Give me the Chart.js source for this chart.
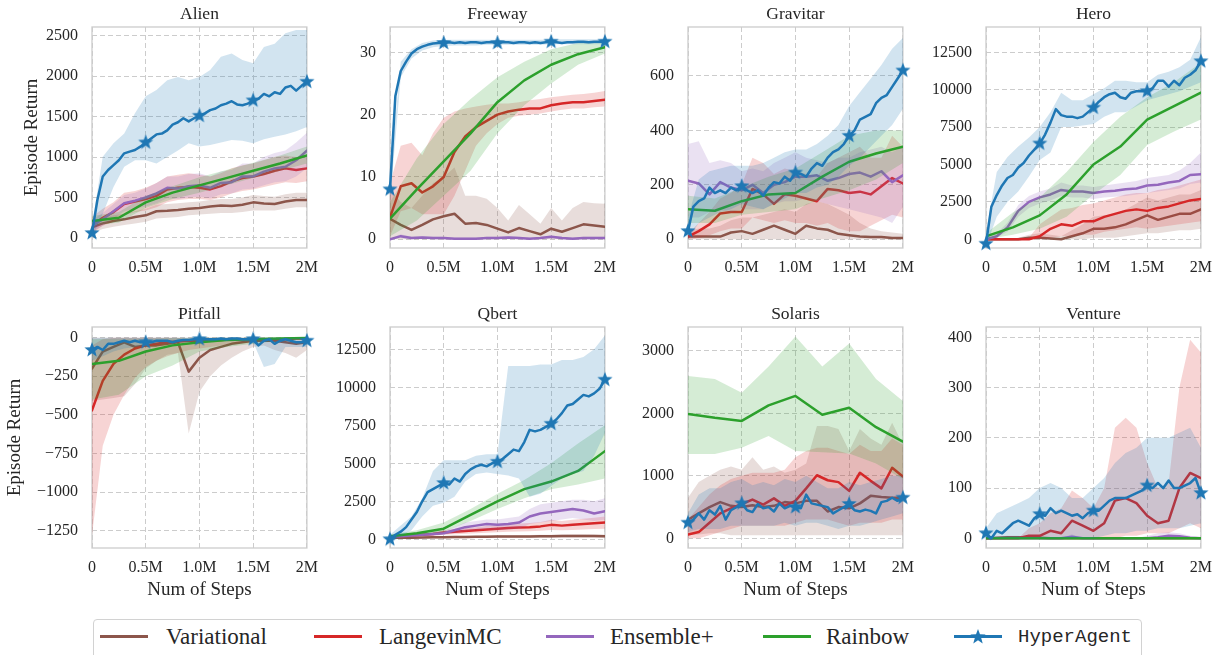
<!DOCTYPE html>
<html><head><meta charset="utf-8">
<script src="https://cdn.jsdelivr.net/npm/chart.js@4.4.0/dist/chart.umd.min.js"></script>
<style>
html,body{margin:0;padding:0;background:#fff;}
body{width:1225px;height:655px;overflow:hidden;position:relative;font-family:"Liberation Serif",serif;color:#262626}
.cw{position:absolute}
#legend{position:absolute;left:93px;top:619px;width:1049px;height:46px;border:1px solid #d2d2d2;border-radius:4px;box-sizing:border-box}
.lline{position:absolute;height:3px;width:48px;top:635px}
.ltext{position:absolute;top:622px;font-size:23px;line-height:30px;white-space:nowrap}
</style></head><body>
<div id="legend"></div>
<script>
// ---------- shared axes / categories ----------
const X10 = [0,0.1,0.2,0.3,0.4,0.5,0.6,0.7,0.8,0.9,1.0,1.1,1.2,1.3,1.4,1.5,1.6,1.7,1.8,1.9,2.0];
const X25 = [0,0.25,0.5,0.75,1.0,1.25,1.5,1.75,2.0];
const X05 = [0,0.05,0.1,0.15,0.2,0.25,0.3,0.35,0.4,0.45,0.5,0.55,0.6,0.65,0.7,0.75,0.8,0.85,0.9,0.95,1.0,1.05,1.1,1.15,1.2,1.25,1.3,1.35,1.4,1.45,1.5,1.55,1.6,1.65,1.7,1.75,1.8,1.85,1.9,1.95,2.0];
const xTickValues = [0,0.5,1,1.5,2];
const xTickLabels = ['0','0.5M','1.0M','1.5M','2M'];
const methods = ['Variational','LangevinMC','Ensemble+','Rainbow','HyperAgent'];
const games = ['Alien','Freeway','Gravitar','Hero','Pitfall','Qbert','Solaris','Venture'];

// ---------- y tick labels ----------
const alien_yTicks = [0,500,1000,1500,2000,2500];
const freeway_yTicks = [0,10,20,30];
const gravitar_yTicks = [0,200,400,600];
const hero_yTicks = [0,2500,5000,7500,10000,12500];
const pitfall_yTicks = [-1250,-1000,-750,-500,-250,0];
const qbert_yTicks = [0,2500,5000,7500,10000,12500];
const solaris_yTicks = [0,1000,2000,3000];
const venture_yTicks = [0,100,200,300,400];

// ---------- Alien ----------
const alien_var = [130,180,210,230,260,280,330,335,345,360,370,390,400,395,410,440,425,420,450,470,470];
const alien_var_lo = [60,110,140,160,180,200,240,250,260,280,290,300,310,310,320,340,340,340,360,380,380];
const alien_var_hi = [200,250,280,300,330,360,410,420,430,440,450,470,480,480,500,530,520,510,540,560,560];
const alien_lang = [150,250,320,420,450,480,520,600,620,630,620,600,640,700,740,760,790,830,860,840,860];
const alien_lang_lo = [60,150,200,280,320,340,380,440,470,480,480,470,500,550,580,600,630,660,690,680,700];
const alien_lang_hi = [260,360,440,560,580,620,680,760,780,800,780,760,800,860,900,920,960,1000,1020,1000,1020];
const alien_ens = [150,230,330,430,460,500,550,620,610,640,650,620,680,690,760,760,820,860,880,960,1080];
const alien_ens_lo = [80,150,240,330,360,390,430,490,480,500,510,490,540,550,600,610,650,690,700,760,860];
const alien_ens_hi = [220,310,420,530,560,610,680,760,760,790,800,760,820,840,920,920,1000,1050,1080,1180,1300];
const alien_rain = [210,250,440,560,650,740,830,920,1020];
const alien_rain_lo = [150,190,370,480,560,650,740,830,920];
const alien_rain_hi = [270,320,520,640,750,840,930,1020,1130];
const alien_hyp = [60,470,760,840,900,960,1046,1067,1087,1128,1180,1230,1280,1290,1330,1400,1430,1480,1440,1480,1510,1540,1580,1600,1640,1660,1690,1650,1640,1660,1700,1720,1780,1750,1800,1780,1860,1880,1820,1880,1930];
const alien_hyp_lo = [0,300,630,880,960,960,920,1000,1080,1170,1130,1150,1180,1210,1200,1170,1220,1250,1280,1320,1370];
const alien_hyp_hi = [150,1005,1170,1290,1540,1750,1830,1950,1990,1950,1990,2075,2240,2280,2200,2160,2360,2400,2530,2570,2570];

// ---------- Freeway ----------
const freeway_var = [3.3,2.3,1.5,2.3,3.2,3.7,4.1,2.5,2.6,2.3,1.7,1.1,1.8,1.3,0.8,1.7,1.2,1.8,2.4,2.2,2.0];
const freeway_var_lo = [0,0,0,0,0,0,0,0,0,0,0,0,0,0,0,0,0,0,0,0,0];
const freeway_var_hi = [8,6,5,7,9,10,11.5,7,7,6.5,5,3,5.5,4,2.5,5,3,5,6,5.8,5.7];
const freeway_lang = [3.5,8.5,9,7.5,8.5,10,14,16.5,18,19,20,20.5,20.8,21,21,21.5,21.8,22,22,22.2,22.4];
const freeway_lang_lo = [0.5,4.5,5,4,4,4,7,11,15,17,18.5,19.5,19.8,20,20.2,20.5,20.8,21,21,21.2,21.3];
const freeway_lang_hi = [9,15,15.5,13.5,17,19.5,20.5,21,21.3,21.6,21.8,21.8,22,22.3,22.5,22.8,23,23.2,23.3,23.5,23.8];
const freeway_ens = [0,0.5,0.2,0.3,0.2,0.2,0.1,0.1,0.1,0.2,0.2,0.3,0.2,0.1,0.2,0.4,0.2,0.1,0.2,0.2,0.2];
const freeway_ens_lo = [0,0.2,0,0.1,0,0,0,0,0,0,0,0.1,0,0,0,0.2,0,0,0,0,0];
const freeway_ens_hi = [0.1,0.8,0.4,0.5,0.4,0.4,0.3,0.3,0.3,0.4,0.4,0.5,0.4,0.3,0.4,0.6,0.4,0.3,0.4,0.4,0.4];
const freeway_rain = [3.3,8,12.5,17,22,25.5,28,29.7,30.8];
const freeway_rain_lo = [0.5,3,7,11,17,21.5,25,28,29.8];
const freeway_rain_hi = [6,13,18.5,22.5,26,28.5,30.5,31.5,31.8];
const freeway_hyp = [8,23,27,28.5,29.8,30.5,30.9,31.2,31.4,31.5,31.5,31.6,31.5,31.6,31.5,31.6,31.6,31.5,31.6,31.6,31.5,31.6,31.6,31.5,31.6,31.6,31.5,31.6,31.5,31.6,31.7,31.6,31.5,31.6,31.6,31.7,31.7,31.6,31.7,31.7,31.7];
const freeway_hyp_lo = [6,26,29,30.3,30.8,31,31.1,31.1,31.1,31.2,31.2,31.2,31.2,31.2,31.2,31.3,31.3,31.3,31.3,31.3,31.3];
const freeway_hyp_hi = [10,28.5,30.5,31.5,31.9,32,32,32,32,32,32,32,32,32,32,32.1,32.1,32.1,32.1,32.1,32.1];

// ---------- Gravitar ----------
const gravitar_var = [10,10,10,10,25,30,20,35,50,35,20,50,40,35,20,15,10,8,8,5,5];
const gravitar_var_lo = [0,0,0,0,0,0,0,0,0,0,0,0,0,0,0,0,0,0,0,0,0];
const gravitar_var_hi = [30,40,40,50,70,80,80,90,100,110,100,130,140,130,110,90,60,40,30,25,20];
const gravitar_lang = [10,30,55,95,100,100,185,165,130,165,160,150,140,185,180,170,175,165,195,225,205];
const gravitar_lang_lo = [0,5,15,30,40,40,80,70,60,70,60,60,50,60,40,30,30,50,70,90,80];
const gravitar_lang_hi = [20,60,100,150,170,200,300,280,240,260,250,240,230,280,300,320,340,300,300,380,340];
const gravitar_ens = [215,205,165,210,190,180,200,170,200,210,230,230,235,215,225,240,245,230,250,210,235];
const gravitar_ens_lo = [80,80,100,110,100,110,110,110,130,140,140,150,140,130,120,110,100,90,80,60,120];
const gravitar_ens_hi = [350,360,280,290,280,250,260,250,280,300,320,300,290,280,300,300,320,330,340,320,340];
const gravitar_rain = [110,105,140,165,170,230,285,315,340];
const gravitar_rain_lo = [60,60,90,100,110,150,180,220,280];
const gravitar_rain_hi = [160,150,190,230,260,320,380,400,400];
const gravitar_hyp = [30,120,140,150,190,170,180,170,190,180,195,180,170,180,160,190,210,205,230,215,245,240,230,260,280,270,300,320,330,350,380,400,440,450,460,500,520,530,560,590,620];
const gravitar_hyp_lo = [0,60,80,100,110,130,120,110,130,150,170,170,190,200,230,270,300,340,380,420,480];
const gravitar_hyp_hi = [80,220,250,260,270,270,270,280,300,320,330,330,350,380,420,490,540,590,640,700,740];

// ---------- Hero ----------
const hero_var = [0,0,0,0,100,100,50,0,200,400,700,700,800,1000,1300,1600,1300,1500,1700,1700,2000];
const hero_var_lo = [0,0,0,0,0,0,0,0,0,0,100,100,100,200,300,400,400,500,600,600,700];
const hero_var_hi = [0,0,0,100,300,400,300,200,600,1000,1500,1600,1700,2000,2400,2800,2600,2800,3000,3000,3300];
const hero_lang = [0,0,0,0,0,200,700,1000,900,1200,1200,1500,1700,1900,2000,1900,2100,2200,2400,2600,2700];
const hero_lang_lo = [0,0,0,0,0,0,100,200,200,300,300,500,600,700,800,700,800,900,1000,1100,1200];
const hero_lang_hi = [0,0,0,0,100,1000,1500,2000,2100,2300,2400,2600,2800,3000,3100,3100,3300,3400,3600,3800,4000];
const hero_ens = [0,200,800,1900,2500,2800,3000,3300,3200,3200,3100,3200,3250,3350,3400,3600,3650,3800,3900,4300,4350];
const hero_ens_lo = [0,100,500,1500,2100,2400,2600,2900,2800,2800,2700,2800,2850,2900,3000,3100,3200,3300,3400,3700,3800];
const hero_ens_hi = [100,400,1100,2300,2900,3200,3400,3800,3600,3600,3500,3600,3700,3800,3900,4100,4200,4300,4600,5100,5800];
const hero_rain = [200,800,1600,3000,5000,6200,8000,8900,9800];
const hero_rain_lo = [0,300,700,1500,3000,4300,6300,7200,8000];
const hero_rain_hi = [400,1800,2800,4500,6500,8200,9500,10500,11800];
const hero_hyp = [-300,2180,2960,3600,4100,4300,4800,5100,5600,6000,6400,7000,7800,8700,8300,8200,8200,8100,8200,8500,8800,9200,9500,9700,9800,9500,9400,9800,9900,9900,9900,10100,10600,10600,10200,10600,10300,10800,11000,11300,11900];
const hero_hyp_lo = [-500,1500,2500,3200,4200,5300,5800,7500,7500,7600,7700,8200,8500,8500,8900,9300,9500,9700,9900,10200,10500];
const hero_hyp_hi = [500,4500,5500,6200,6800,7500,8500,9800,9300,9300,9700,10100,10600,10600,10500,10500,11000,11200,11500,12000,13500];

// ---------- Pitfall ----------
const pitfall_var = [-200,-90,-60,-30,-60,-50,-50,-40,-30,-220,-130,-80,-60,-40,-30,-20,-20,-20,-30,-40,-30];
const pitfall_var_lo = [-410,-400,-390,-380,-300,-200,-150,-110,-100,-620,-350,-250,-180,-130,-90,-60,-50,-80,-100,-130,-80];
const pitfall_var_hi = [0,0,0,0,0,0,0,0,0,-10,0,0,0,0,0,0,0,0,0,0,0];
const pitfall_lang = [-470,-280,-170,-110,-70,-50,-40,-30,-25,-20,-20,-15,-15,-10,-10,-10,-10,-10,-10,-5,-5];
const pitfall_lang_lo = [-1280,-700,-500,-370,-260,-190,-150,-120,-100,-80,-70,-60,-50,-40,-35,-30,-25,-20,-15,-15,-10];
const pitfall_lang_hi = [-50,-10,0,0,0,0,0,0,0,0,0,0,0,0,0,0,0,0,0,0,0];
const pitfall_rain = [-170,-150,-90,-50,-30,-15,-10,-5,-3];
const pitfall_rain_lo = [-400,-370,-250,-180,-90,-60,-40,-20,-10];
const pitfall_rain_hi = [-10,-5,-5,-3,0,0,0,0,0];
const pitfall_hyp = [-80,-60,-80,-40,-40,-30,-20,-30,-20,-30,-30,-30,-20,-20,-20,-30,-20,-15,-15,-10,-10,-10,-10,-10,-5,-10,-5,-5,-10,-10,-10,-50,-20,-10,-40,-20,-10,-20,-30,-30,-20];
const pitfall_hyp_lo = [-150,-120,-90,-70,-60,-50,-40,-40,-35,-30,-25,-25,-20,-20,-25,-30,-190,-170,-60,-60,-60];
const pitfall_hyp_hi = [0,0,0,0,0,0,0,0,0,0,0,0,0,0,0,0,0,0,0,0,0];

// ---------- Qbert ----------
const qbert_var = [100,100,110,120,130,140,150,150,160,170,180,180,190,190,200,200,210,220,220,210,200];
const qbert_var_lo = [50,50,50,60,60,70,70,70,80,80,90,90,90,90,100,100,100,110,110,100,100];
const qbert_var_hi = [150,160,170,180,200,210,230,230,240,260,270,270,290,290,300,300,320,330,330,320,300];
const qbert_lang = [150,200,250,300,350,450,500,550,600,650,700,750,780,800,850,950,900,950,1000,1050,1100];
const qbert_lang_lo = [100,130,170,200,230,300,330,360,400,430,470,500,520,530,560,620,600,620,650,680,700];
const qbert_lang_hi = [200,270,330,400,470,600,670,740,800,870,930,1000,1040,1070,1140,1280,1200,1280,1350,1420,1500];
const qbert_ens = [200,200,250,300,350,400,600,800,900,1000,950,1000,1100,1500,1700,1800,1900,2000,1900,1700,1850];
const qbert_ens_lo = [100,100,150,200,250,300,400,550,600,650,600,650,700,1000,1100,1200,1300,1400,1300,1200,1300];
const qbert_ens_hi = [300,300,350,400,500,550,800,1100,1200,1300,1300,1400,1500,2000,2300,2400,2500,2600,2600,2500,2700];
const qbert_rain = [200,400,700,1600,2500,3300,3800,4500,5800];
const qbert_rain_lo = [100,300,500,1200,2000,2700,3300,3600,4000];
const qbert_rain_hi = [300,600,1100,2000,3000,3900,5000,6300,7500];
const qbert_hyp = [0,300,500,800,1300,1800,2500,3100,3300,3500,3700,3600,4000,3800,4300,4600,4800,4900,4800,5000,5100,5300,5600,5900,5800,6400,7200,7100,7200,7400,7600,7900,8300,8800,8900,9200,9500,9400,9600,9900,10500];
const qbert_hyp_lo = [-300,200,600,1500,2200,2400,2800,3800,4300,4400,4300,4200,4000,2800,3000,3500,4000,4300,4500,5500,7000];
const qbert_hyp_hi = [300,900,1500,2700,4500,5200,5200,5200,5500,5600,5600,11400,11400,11400,11500,11500,11800,11800,12000,12500,13400];

// ---------- Solaris ----------
const solaris_var = [300,400,500,580,520,500,530,500,520,580,560,600,600,430,500,480,560,680,660,650,650];
const solaris_var_lo = [50,60,80,80,50,50,50,50,50,50,50,50,50,50,50,50,50,50,50,50,50];
const solaris_var_hi = [650,900,1000,1100,1150,1100,1300,1100,1150,1050,1100,1200,1800,1800,1750,1400,1750,1600,1500,1850,1500];
const solaris_lang = [60,100,250,400,480,550,620,540,640,520,600,800,1010,930,900,760,1050,920,800,1130,990];
const solaris_lang_lo = [0,0,50,100,150,200,200,200,200,200,250,300,300,300,250,200,250,250,250,300,300];
const solaris_lang_hi = [300,500,700,850,950,1000,1050,1050,1050,1100,1300,1400,1450,1450,1400,1350,1500,1400,1400,1600,1500];
const solaris_rain = [1990,1930,1880,2130,2280,1980,2090,1780,1550];
const solaris_rain_lo = [1350,1350,1450,1640,1400,1380,1360,1200,950];
const solaris_rain_hi = [2600,2550,2330,2750,3230,2750,3120,2550,2200];
const solaris_hyp = [250,300,400,300,450,380,520,300,450,500,560,450,420,550,480,500,430,560,480,520,500,480,700,560,540,520,500,400,450,500,550,450,430,460,440,400,580,600,650,600,650];
const solaris_hyp_lo = [100,150,150,150,200,200,200,200,200,250,200,250,250,200,150,200,200,250,300,350,400];
const solaris_hyp_hi = [400,700,800,800,900,950,850,900,850,950,900,1000,900,800,800,900,850,900,950,1000,1000];

// ---------- Venture ----------
const venture_var = [0,1,2,2,1,1,0,0,0,0,0,0,0,0,0,0,0,0,0,0,0];
const venture_var_lo = [0,0,0,0,0,0,0,0,0,0,0,0,0,0,0,0,0,0,0,0,0];
const venture_var_hi = [0,3,5,5,3,3,2,2,2,2,2,2,2,2,2,2,2,2,2,2,2];
const venture_lang = [0,0,0,0,5,5,15,10,35,25,15,30,75,80,70,45,30,35,100,130,120];
const venture_lang_lo = [0,0,0,0,0,0,0,0,0,0,0,0,0,5,5,10,10,10,20,30,20];
const venture_lang_hi = [0,0,0,0,20,30,50,60,95,80,60,100,220,240,220,150,100,110,300,395,370];
const venture_ens = [0,0,0,0,0,0,0,0,3,0,0,0,0,0,0,0,2,5,4,1,0];
const venture_ens_lo = [0,0,0,0,0,0,0,0,0,0,0,0,0,0,0,0,0,0,0,0,0];
const venture_ens_hi = [0,0,0,0,0,0,0,0,8,0,0,0,0,0,0,5,10,12,10,5,2];
const venture_rain = [0,0,0,0,0,0,0,0,0];
const venture_rain_lo = [0,0,0,0,0,0,0,0,0];
const venture_rain_hi = [0,0,0,0,0,0,0,0,0];
const venture_hyp = [10,0,15,10,20,30,35,30,25,40,48,45,60,50,55,50,45,48,40,50,55,55,65,75,80,80,80,85,90,95,105,100,110,100,115,100,100,105,110,120,90];
const venture_hyp_lo = [0,0,0,0,0,0,0,0,0,0,0,5,10,10,15,15,20,20,20,25,30];
const venture_hyp_hi = [20,50,60,70,80,100,110,100,80,80,100,120,150,170,180,200,200,200,210,220,180];

// ---------- styling ----------
const colors = ['#8c564b','#d62728','#9467bd','#2ca02c','#1f77b4'];
const TXT = '#262626';
const SERIF = '"Liberation Serif", "Times New Roman", serif';
Chart.defaults.font.family = SERIF;
Chart.defaults.color = TXT;

function rgba(hex, a){
  const n = parseInt(hex.slice(1),16);
  return `rgba(${(n>>16)&255},${(n>>8)&255},${n&255},${a})`;
}
function makeStar(r, color){
  const s = Math.ceil(r*2+2);
  const cv = document.createElement('canvas');
  cv.width = s; cv.height = s;
  const c = cv.getContext('2d');
  c.fillStyle = color;
  c.beginPath();
  for (let i=0;i<10;i++){
    const rr = i%2 ? r*0.42 : r;
    const a = -Math.PI/2 + i*Math.PI/5;
    c.lineTo(s/2 + rr*Math.cos(a), s/2 + rr*Math.sin(a));
  }
  c.closePath(); c.fill();
  return cv;
}
const starImg = makeStar(8, colors[4]);

function S(x, mean, lo, hi, bx){ return {x, mean, lo, hi, bx: bx || x}; }

const panels = [
  {name: games[0], col:0, row:0, yTicks: alien_yTicks, yMin:-124, yMax:2607, yTitlePad:20.6, series:[
    S(X10, alien_var, alien_var_lo, alien_var_hi), S(X10, alien_lang, alien_lang_lo, alien_lang_hi),
    S(X10, alien_ens, alien_ens_lo, alien_ens_hi), S(X25, alien_rain, alien_rain_lo, alien_rain_hi),
    S(X05, alien_hyp, alien_hyp_lo, alien_hyp_hi, X10)]},
  {name: games[1], col:1, row:0, yTicks: freeway_yTicks, yMin:-1.4, yMax:34.06, series:[
    S(X10, freeway_var, freeway_var_lo, freeway_var_hi), S(X10, freeway_lang, freeway_lang_lo, freeway_lang_hi),
    S(X10, freeway_ens, freeway_ens_lo, freeway_ens_hi), S(X25, freeway_rain, freeway_rain_lo, freeway_rain_hi),
    S(X05, freeway_hyp, freeway_hyp_lo, freeway_hyp_hi, X10)]},
  {name: games[2], col:2, row:0, yTicks: gravitar_yTicks, yMin:-32, yMax:780, series:[
    S(X10, gravitar_var, gravitar_var_lo, gravitar_var_hi), S(X10, gravitar_lang, gravitar_lang_lo, gravitar_lang_hi),
    S(X10, gravitar_ens, gravitar_ens_lo, gravitar_ens_hi), S(X25, gravitar_rain, gravitar_rain_lo, gravitar_rain_hi),
    S(X05, gravitar_hyp, gravitar_hyp_lo, gravitar_hyp_hi, X10)]},
  {name: games[3], col:3, row:0, yTicks: hero_yTicks, yMin:-581, yMax:14191, series:[
    S(X10, hero_var, hero_var_lo, hero_var_hi), S(X10, hero_lang, hero_lang_lo, hero_lang_hi),
    S(X10, hero_ens, hero_ens_lo, hero_ens_hi), S(X25, hero_rain, hero_rain_lo, hero_rain_hi),
    S(X05, hero_hyp, hero_hyp_lo, hero_hyp_hi, X10)]},
  {name: games[4], col:0, row:1, yTicks: pitfall_yTicks, yMin:-1362, yMax:69, yTitlePad:3.6, series:[
    S(X10, pitfall_var, pitfall_var_lo, pitfall_var_hi), S(X10, pitfall_lang, pitfall_lang_lo, pitfall_lang_hi),
    null, S(X25, pitfall_rain, pitfall_rain_lo, pitfall_rain_hi),
    S(X05, pitfall_hyp, pitfall_hyp_lo, pitfall_hyp_hi, X10)]},
  {name: games[5], col:1, row:1, yTicks: qbert_yTicks, yMin:-572, yMax:13967, series:[
    S(X10, qbert_var, qbert_var_lo, qbert_var_hi), S(X10, qbert_lang, qbert_lang_lo, qbert_lang_hi),
    S(X10, qbert_ens, qbert_ens_lo, qbert_ens_hi), S(X25, qbert_rain, qbert_rain_lo, qbert_rain_hi),
    S(X05, qbert_hyp, qbert_hyp_lo, qbert_hyp_hi, X10)]},
  {name: games[6], col:2, row:1, yTicks: solaris_yTicks, yMin:-155, yMax:3384, series:[
    S(X10, solaris_var, solaris_var_lo, solaris_var_hi), S(X10, solaris_lang, solaris_lang_lo, solaris_lang_hi),
    null, S(X25, solaris_rain, solaris_rain_lo, solaris_rain_hi),
    S(X05, solaris_hyp, solaris_hyp_lo, solaris_hyp_hi, X10)]},
  {name: games[7], col:3, row:1, yTicks: venture_yTicks, yMin:-19.3, yMax:420.5, series:[
    S(X10, venture_var, venture_var_lo, venture_var_hi), S(X10, venture_lang, venture_lang_lo, venture_lang_hi),
    S(X10, venture_ens, venture_ens_lo, venture_ens_hi), S(X25, venture_rain, venture_rain_lo, venture_rain_hi),
    S(X05, venture_hyp, venture_hyp_lo, venture_hyp_hi, X10)]},
];

// layout of plot boxes
const BOX_LEFT = [92, 390, 688, 986];
const BOX_TOP = [27, 327];
const BOX_W = 222, BOX_H = 221;
const Y_AXIS_W = 92, RIGHT_PAD = 14, TOP_H = 27;
const X_AXIS_H = [36, 60];

const boxPlugin = {
  id: 'box',
  beforeDatasetsDraw(chart){
    const a = chart.chartArea, c = chart.ctx;
    c.save(); c.strokeStyle = '#cccccc'; c.lineWidth = 1.3;
    c.strokeRect(a.left, a.top, a.right - a.left, a.bottom - a.top);
    c.restore();
  }
};

function pts(xs, ys){ return ys.map((y,i)=>({x: xs[i], y})); }
function fmt(v){ return v < 0 ? '\u2212' + Math.abs(v) : String(v); }

panels.forEach(p => {
  const wrap = document.createElement('div');
  wrap.className = 'cw';
  const W = Y_AXIS_W + BOX_W + RIGHT_PAD;
  const H = TOP_H + BOX_H + X_AXIS_H[p.row];
  wrap.style.left = (BOX_LEFT[p.col] - Y_AXIS_W) + 'px';
  wrap.style.top = (BOX_TOP[p.row] - TOP_H) + 'px';
  const cv = document.createElement('canvas');
  cv.width = W; cv.height = H;
  cv.style.width = W + 'px'; cv.style.height = H + 'px';
  wrap.appendChild(cv);
  document.body.appendChild(wrap);

  const datasets = [];
  p.series.forEach((s, k) => {
    if (!s) return;
    const c = colors[k];
    const loIdx = datasets.length;
    datasets.push({label: methods[k] + ' lo', data: pts(s.bx, s.lo), borderWidth: 0, borderColor: 'rgba(0,0,0,0)',
      pointRadius: 0, fill: false, order: 100 - 4*k});
    datasets.push({label: methods[k] + ' hi', data: pts(s.bx, s.hi), borderWidth: 0, borderColor: 'rgba(0,0,0,0)',
      pointRadius: 0, fill: loIdx, backgroundColor: rgba(c, 0.2), order: 99 - 4*k});
    const ds = {label: methods[k], data: pts(s.x, s.mean), borderColor: c, backgroundColor: c, borderWidth: 2.5,
      borderJoinStyle: 'round', borderCapStyle: 'round', tension: 0, fill: false, order: 98 - 4*k, pointRadius: 0};
    if (k === 4) {
      ds.pointStyle = starImg;
      ds.pointRadius = ctx => (ctx.dataIndex % 10 === 0 ? 8 : 0);
      ds.clip = false;
    }
    datasets.push(ds);
  });

  new Chart(cv.getContext('2d'), {
    type: 'line',
    data: {datasets},
    plugins: [boxPlugin],
    options: {
      responsive: false, animation: false, events: [],
      layout: {padding: {left: 0, right: RIGHT_PAD, top: 0, bottom: 0}},
      plugins: {
        legend: {display: false}, tooltip: {enabled: false},
        title: {display: true, text: p.name, fullSize: false, color: TXT,
          font: {size: 17.5, weight: 'normal', family: SERIF}, padding: {top: 3.5, bottom: 2.5}}
      },
      scales: {
        x: {
          type: 'linear', min: 0, max: 2,
          afterBuildTicks: sc => { sc.ticks = xTickValues.map(v => ({value: v})); },
          afterFit: sc => { sc.height = X_AXIS_H[p.row]; },
          ticks: {callback: v => xTickLabels[xTickValues.indexOf(v)], font: {size: 16}, color: TXT,
            padding: 10, maxRotation: 0, autoSkip: false},
          grid: {color: '#cccccc', lineWidth: 1, drawTicks: false},
          border: {display: false, dash: [5, 3]},
          title: {display: p.row === 1, text: 'Num of Steps', color: TXT, font: {size: 19}, padding: {top: 0, bottom: 6.6}}
        },
        y: {
          type: 'linear', min: p.yMin, max: p.yMax,
          afterBuildTicks: sc => { sc.ticks = p.yTicks.map(v => ({value: v})); },
          afterFit: sc => { sc.width = Y_AXIS_W; },
          ticks: {callback: v => fmt(v), font: {size: 16}, color: TXT, padding: 14, autoSkip: false},
          grid: {color: '#cccccc', lineWidth: 1, drawTicks: false},
          border: {display: false, dash: [5, 3]},
          title: {display: p.col === 0, text: 'Episode Return', color: TXT, font: {size: 19},
            padding: {top: p.yTitlePad || 0, bottom: 0}}
        }
      }
    }
  });
});

// ---------- legend ----------
const legLineX = [100, 314, 546, 763, 954];
const legTextX = [166, 379, 610, 826, 1018];
methods.forEach((m, k) => {
  const ln = document.createElement('div');
  ln.className = 'lline';
  ln.style.left = legLineX[k] + 'px';
  ln.style.background = colors[k];
  document.body.appendChild(ln);
  const t = document.createElement('div');
  t.className = 'ltext';
  t.style.left = legTextX[k] + 'px';
  t.textContent = m;
  if (k === 4) { t.style.fontFamily = '"Liberation Mono", "DejaVu Sans Mono", monospace'; t.style.fontSize = '19px'; }
  document.body.appendChild(t);
  if (k === 4) {
    const st = makeStar(8, colors[4]);
    st.style.position = 'absolute';
    st.style.left = (legLineX[k] + 24 - st.width/2) + 'px';
    st.style.top = (636.5 - st.height/2) + 'px';
    document.body.appendChild(st);
  }
});
</script>
</body></html>
